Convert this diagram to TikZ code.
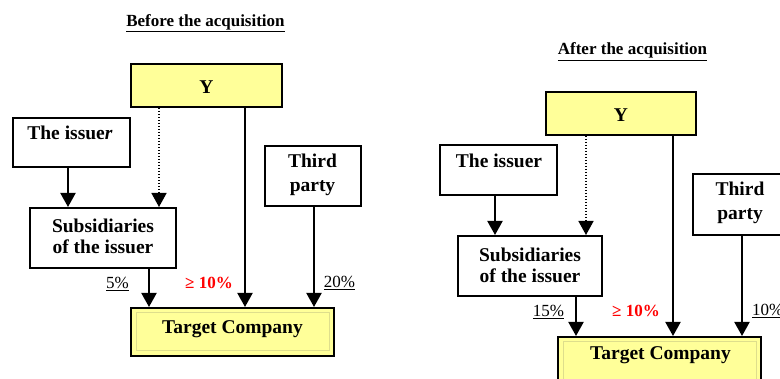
\documentclass[tikz,border=0pt]{standalone}
\usepackage{fontspec}
\setmainfont{Liberation Serif}
\usetikzlibrary{arrows.meta}
\definecolor{ylw}{RGB}{255,255,153}
\definecolor{innerframe}{RGB}{222,222,140}
\definecolor{redtxt}{RGB}{255,0,0}
\begin{document}
\begin{tikzpicture}[x=1pt,y=-1pt,
  box/.style={draw=black, line width=2pt, inner sep=0pt, fill=white},
  ybox/.style={box, fill=ylw},
  boxtext/.style={anchor=base, inner sep=0pt, font=\fontsize{19.5}{21}\selectfont\bfseries},
  titletext/.style={anchor=base, inner sep=0pt, font=\fontsize{17}{20}\selectfont\bfseries},
  pct/.style={anchor=base, inner sep=0pt, font=\fontsize{17}{20}\selectfont},
  redpct/.style={anchor=base, inner sep=0pt, text=redtxt, font=\fontsize{17}{20}\selectfont\bfseries},
  arr/.style={line width=2pt, -{Triangle[width=15pt,length=14pt]}},
  dotarr/.style={line width=1.5pt, dash pattern=on 1.5pt off 1.5pt, -{Triangle[width=15pt,length=14pt]}},
  frame/.style={draw=innerframe, line width=1pt}
]
\useasboundingbox (0,0) rectangle (780,379);

% ---------------- Before ----------------
\node[titletext] (titleL) at (205.5,26.5) {\underline{Before the acquisition}};

\node[ybox, minimum width=151pt, minimum height=43pt] (YL) at (206.5,85.5) {};
\node[boxtext] (YLt) at (206.5,93.5) {Y};

\node[box, minimum width=117pt, minimum height=49pt] (issuerL) at (71.5,142.5) {};
\node[boxtext] (issuerLt) at (70,140) {The issue\textit{r}};

\node[box, minimum width=96pt, minimum height=60pt] (thirdL) at (313,176) {};
\node[boxtext] (thirdLa) at (312.5,168) {Third};
\node[boxtext] (thirdLb) at (312.5,192) {party};

\node[box, minimum width=146pt, minimum height=60pt] (subsL) at (103,238) {};
\node[boxtext] (subsLa) at (103,233) {Subsidiaries};
\node[boxtext] (subsLb) at (103,254) {of the issuer};

\node[ybox, minimum width=203pt, minimum height=48pt] (targetL) at (232.5,332) {};
\draw[frame] ([xshift=6pt,yshift=-6pt]targetL.north west) rectangle ([xshift=-6pt,yshift=6pt]targetL.south east);
\node[boxtext] (targetLt) at (232.5,334) {Target Company};

\coordinate (la) at (68,0);
\coordinate (lb) at (159,0);
\coordinate (lc) at (245,0);
\coordinate (ld) at (149,0);
\coordinate (le) at (314,0);

\draw[arr] (issuerL.south -| la) -- (subsL.north -| la);
\draw[dotarr] (YL.south -| lb) -- (subsL.north -| lb);
\draw[arr] (YL.south -| lc) -- (targetL.north -| lc);
\draw[arr] (subsL.south -| ld) -- (targetL.north -| ld);
\draw[arr] (thirdL.south -| le) -- (targetL.north -| le);

\node[pct] (p5) at (117.5,289) {\underline{5\%}};
\node[redpct] (pL10) at (209,289) {≥ 10\%};
\node[pct] (p20) at (339.5,288) {\underline{20\%}};

% ---------------- After ----------------
\node[titletext] (titleR) at (632.5,55) {\underline{After the acquisition}};

\node[ybox, minimum width=150pt, minimum height=43pt] (YR) at (621,113.5) {};
\node[boxtext] (YRt) at (621,121.5) {Y};

\node[box, minimum width=117pt, minimum height=50pt] (issuerR) at (498.5,170) {};
\node[boxtext] (issuerRt) at (499,168) {The issuer};

\node[box, minimum width=96pt, minimum height=61pt] (thirdR) at (741,204.5) {};
\node[boxtext] (thirdRa) at (740,196) {Third};
\node[boxtext] (thirdRb) at (740,220) {party};

\node[box, minimum width=144pt, minimum height=60pt] (subsR) at (530,266) {};
\node[boxtext] (subsRa) at (530,262) {Subsidiaries};
\node[boxtext] (subsRb) at (530,283) {of the issuer};

\node[ybox, minimum width=203pt, minimum height=48pt] (targetR) at (659.5,361) {};
\draw[frame] ([xshift=6pt,yshift=-6pt]targetR.north west) rectangle ([xshift=-6pt,yshift=6pt]targetR.south east);
\node[boxtext] (targetRt) at (660.5,360) {Target Company};

\coordinate (ra) at (495,0);
\coordinate (rb) at (586,0);
\coordinate (rc) at (673,0);
\coordinate (rd) at (576,0);
\coordinate (re) at (742,0);

\draw[arr] (issuerR.south -| ra) -- (subsR.north -| ra);
\draw[dotarr] (YR.south -| rb) -- (subsR.north -| rb);
\draw[arr] (YR.south -| rc) -- (targetR.north -| rc);
\draw[arr] (subsR.south -| rd) -- (targetR.north -| rd);
\draw[arr] (thirdR.south -| re) -- (targetR.north -| re);

\node[pct] (p15) at (548.5,317) {\underline{15\%}};
\node[redpct] (pR10) at (636,317) {≥ 10\%};
\node[pct, anchor=base west] (pR10b) at (752,316) {\underline{10\%}};
\end{tikzpicture}
\end{document}
